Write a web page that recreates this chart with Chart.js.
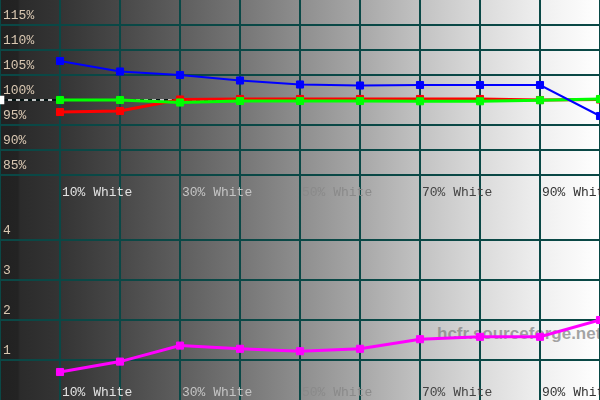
<!DOCTYPE html>
<html><head><meta charset="utf-8">
<script src="https://cdn.jsdelivr.net/npm/chart.js@4"></script>
<style>
html,body{margin:0;padding:0;background:#fff;}
#wrap{position:relative;width:600px;height:400px;overflow:hidden;
 background:linear-gradient(to right,#212121 0px,#232323 18px,#2b2b2b 20px,#343434 60px,#484848 120px,#5e5e5e 180px,#757575 240px,#8e8e8e 300px,#a7a7a7 360px,#c2c2c2 420px,#dadada 480px,#efefef 540px,#ffffff 600px);}
.c{position:absolute;left:0;width:600px;height:200px;}
#wm{position:absolute;left:437px;top:324px;font:bold 17px "Liberation Sans",Arial,sans-serif;color:rgba(125,125,125,0.7);white-space:nowrap;}
</style></head>
<body><div id="wrap"><div id="wm">hcfr.sourceforge.net</div>
<div class="c" style="top:0"><canvas id="top" width="600" height="200"></canvas></div>
<div class="c" style="top:200px"><canvas id="bot" width="600" height="200"></canvas></div></div>
<script>
const categories = ['10% White','20% White','30% White','40% White','50% White','60% White','70% White','80% White','90% White','100% White'];
const redLevel   = [97.6, 97.8, 100.1, 100.2, 100.2, 100.2, 100.2, 100.2, 100.0, 100.1];
const greenLevel = [100.0, 100.0, 99.5, 99.8, 99.8, 99.8, 99.75, 99.75, 99.95, 100.2];
const blueLevel  = [107.8, 105.7, 105.0, 103.9, 103.1, 102.9, 103.0, 103.0, 103.0, 96.8];
const refLevel   = 100;
const deltaE     = [0.7, 0.96, 1.36, 1.28, 1.22, 1.28, 1.52, 1.58, 1.58, 2.0];
const levelTicks = [85, 90, 95, 100, 105, 110, 115];
const deltaTicks = [1, 2, 3, 4];
const xLabelColors = ['#e2e2e2','#e2e2e2','#c4c4c4','#c4c4c4','#8a8a8a','#8a8a8a','#444444','#444444','#333333','#333333'];

const MONO = '"Liberation Mono","DejaVu Sans Mono",monospace';
const GRID = '#0a4846';
const AXIS_H = 14;

function pts(arr){ return arr.map((v,i)=>({x:i+1,y:v})); }

function xScale(){
  return {
    type:'linear', min:0, max:10, position:'bottom',
    border:{display:false},
    grid:{color:GRID, lineWidth:2, drawTicks:true, tickLength:AXIS_H, tickColor:GRID, tickWidth:2},
    ticks:{
      autoSkip:false, maxRotation:0, minRotation:0, align:'start', labelOffset:2, padding:-15,
      font:{family:MONO, size:13},
      color:(ctx)=>{ const i = ctx.tick ? ctx.tick.value-1 : 0; return xLabelColors[i] || '#ccc'; },
      callback:(v)=>{ const i=v-1; return (i>=0 && i<categories.length && i%2===0) ? categories[i] : ''; }
    },
    afterBuildTicks:(s)=>{ s.ticks=[0].concat(categories.map((_,i)=>i+1)).map(v=>({value:v})); },
    afterFit:(s)=>{ s.height=AXIS_H; s.paddingLeft=0; s.paddingRight=0; s.paddingTop=0; s.paddingBottom=0; }
  };
}
function yScale(min,max,shown,fmt){
  return {
    type:'linear', min:min, max:max, position:'left',
    border:{display:false},
    grid:{color:GRID, lineWidth:2, drawTicks:false},
    ticks:{
      autoSkip:false, mirror:true, padding:3, labelOffset:-9,
      font:{family:MONO, size:13}, color:'#dac8b2',
      callback:(v)=> fmt(v)
    },
    afterBuildTicks:(s)=>{ s.ticks=shown.map(v=>({value:v})); },
    afterFit:(s)=>{ s.width=0; s.paddingLeft=0; s.paddingRight=0; s.paddingTop=0; s.paddingBottom=0; }
  };
}
function ds(label,data,color,width,order){
  return {label, data:pts(data), borderColor:color, backgroundColor:color, borderWidth:width,
    pointStyle:'rect', pointRadius:5, pointBorderWidth:1, pointBorderColor:color, pointBackgroundColor:color,
    tension:0, order};
}
const common = {
  responsive:false, animation:false,
  layout:{padding:0, autoPadding:false},
  plugins:{legend:{display:false}, tooltip:{enabled:false}}
};

const refData = Array.from({length:11},(_,i)=>({x:i,y:refLevel}));

// top: 5% per 25px, 120% at top edge; the axis strip is 14px tall
new Chart(document.getElementById('top'),{
  type:'line',
  data:{datasets:[
    ds('Blue',blueLevel,'#0000ff',2,0),
    ds('Green',greenLevel,'#00ff00',3,1),
    ds('Red',redLevel,'#ff0000',3,2),
    {label:'Ref', data:refData, borderColor:'#ffffff', borderWidth:1.5, borderDash:[4,4],
     pointStyle:'rect', pointRadius:(c)=>c.dataIndex===0?5:0, pointBackgroundColor:'#ffffff', pointBorderColor:'#ffffff', order:3},
    {label:'RefBase', data:refData, borderColor:'#000000', borderWidth:1.5, pointRadius:0, order:4}
  ]},
  options:Object.assign({},common,{scales:{x:xScale(), y:yScale(80+AXIS_H/5,120,levelTicks,v=>v+'%')}})
});

// bottom: 1 unit per 40px, 5 at top edge
new Chart(document.getElementById('bot'),{
  type:'line',
  data:{datasets:[ ds('DeltaE',deltaE,'#ff00ff',3,0) ]},
  options:Object.assign({},common,{scales:{x:xScale(), y:yScale(AXIS_H/40,5,deltaTicks,v=>String(v))}})
});
</script>
</body></html>
